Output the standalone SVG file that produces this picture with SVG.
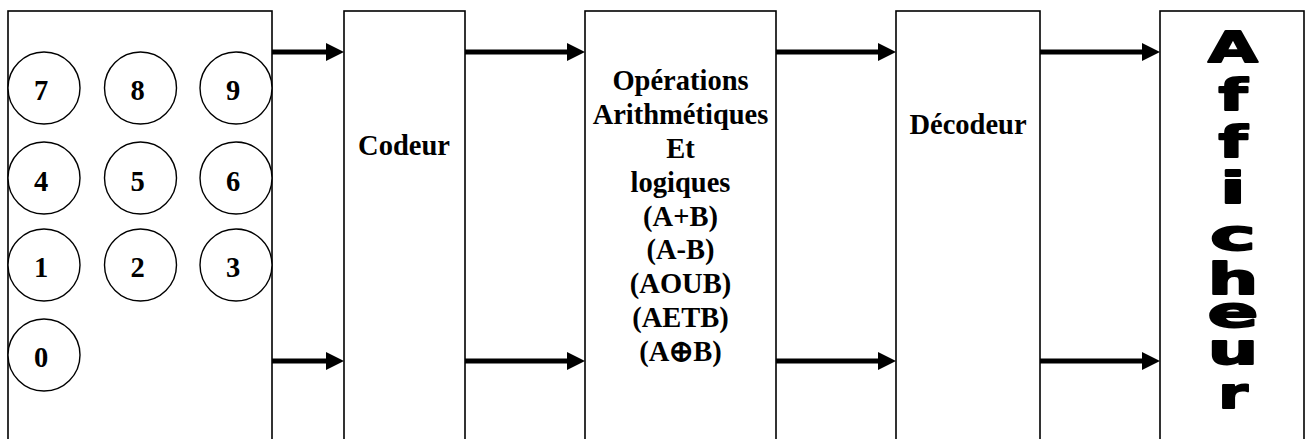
<svg xmlns="http://www.w3.org/2000/svg" width="1313" height="439" viewBox="0 0 1313 439">
<style>
.box{fill:#fff;stroke:#000;stroke-width:1.6}
.key{fill:#fff;stroke:#000;stroke-width:1.4}
.t{font-family:"Liberation Serif","Times New Roman",serif;font-weight:bold;font-size:28.5px;fill:#000;text-anchor:middle}
.arr{stroke:#000;stroke-width:5;fill:none}
.big{font-family:"DejaVu Sans",sans-serif;font-weight:bold;font-size:43px;fill:#000;stroke:#000;stroke-width:1.8;stroke-linejoin:round;text-anchor:middle}
</style>
<defs>
<marker id="ah" markerUnits="userSpaceOnUse" markerWidth="19" markerHeight="19" refX="0" refY="9" orient="auto" overflow="visible">
<path d="M0,0 L18,9 L0,18 z" fill="#000"/>
</marker>
</defs>
<rect width="1313" height="439" fill="#fff"/>
<g id="clavier">
<rect class="box" x="8" y="11" width="264" height="440"/>
<circle class="key" cx="44" cy="88" r="36"/><text class="t" x="41" y="100">7</text>
<circle class="key" cx="140.5" cy="88" r="36"/><text class="t" x="137.5" y="100">8</text>
<circle class="key" cx="236" cy="88" r="36"/><text class="t" x="233" y="100">9</text>
<circle class="key" cx="44" cy="178" r="36"/><text class="t" x="41" y="191">4</text>
<circle class="key" cx="140.5" cy="178" r="36"/><text class="t" x="137.5" y="191">5</text>
<circle class="key" cx="236" cy="178" r="36"/><text class="t" x="233" y="191">6</text>
<circle class="key" cx="44" cy="265" r="36"/><text class="t" x="41" y="277">1</text>
<circle class="key" cx="140.5" cy="265" r="36"/><text class="t" x="137.5" y="277">2</text>
<circle class="key" cx="236" cy="265" r="36"/><text class="t" x="233" y="277">3</text>
<circle class="key" cx="44" cy="355" r="36"/><text class="t" x="41" y="367">0</text>
</g>
<g id="codeur">
<rect class="box" x="344" y="11" width="121" height="440"/>
<text class="t" x="404" y="155">Codeur</text>
</g>
<g id="operations">
<rect class="box" x="585" y="11" width="191" height="440"/>
<text class="t" x="680.5" y="90">Opérations</text>
<text class="t" x="680.5" y="124">Arithmétiques</text>
<text class="t" x="680.5" y="158">Et</text>
<text class="t" x="680.5" y="192">logiques</text>
<text class="t" x="680.5" y="226">(A+B)</text>
<text class="t" x="680.5" y="259">(A-B)</text>
<text class="t" x="680.5" y="293">(AOUB)</text>
<text class="t" x="680.5" y="327">(AETB)</text>
<text class="t" x="680.5" y="361">(A⊕B)</text>
</g>
<g id="decodeur">
<rect class="box" x="896" y="11" width="144" height="440"/>
<text class="t" x="968" y="134">Décodeur</text>
</g>
<g id="afficheur">
<rect class="box" x="1160" y="11" width="144" height="440"/>
<text class="big" transform="translate(1233,62) scale(1.5,1)">A</text>
<text class="big" transform="translate(1233,110) scale(1.55,1)">f</text>
<text class="big" transform="translate(1233,157) scale(1.55,1)">f</text>
<text class="big" transform="translate(1233,203) scale(1.75,1)">i</text>
<text class="big" transform="translate(1233,250) scale(1.8,1)">c</text>
<text class="big" transform="translate(1233,294) scale(1.65,1)">h</text>
<text class="big" transform="translate(1233,327) scale(1.75,1)">e</text>
<text class="big" transform="translate(1233,364) scale(1.65,1)">u</text>
<text class="big" transform="translate(1233,408) scale(1.4,1)">r</text>
</g>
<g id="connecteurs">
<line class="arr" x1="272" y1="52" x2="326" y2="52" marker-end="url(#ah)"/>
<line class="arr" x1="272" y1="361" x2="326" y2="361" marker-end="url(#ah)"/>
<line class="arr" x1="465" y1="52" x2="567" y2="52" marker-end="url(#ah)"/>
<line class="arr" x1="465" y1="361" x2="567" y2="361" marker-end="url(#ah)"/>
<line class="arr" x1="776" y1="52" x2="878" y2="52" marker-end="url(#ah)"/>
<line class="arr" x1="776" y1="361" x2="878" y2="361" marker-end="url(#ah)"/>
<line class="arr" x1="1040" y1="52" x2="1142" y2="52" marker-end="url(#ah)"/>
<line class="arr" x1="1040" y1="361" x2="1142" y2="361" marker-end="url(#ah)"/>
</g>
</svg>
